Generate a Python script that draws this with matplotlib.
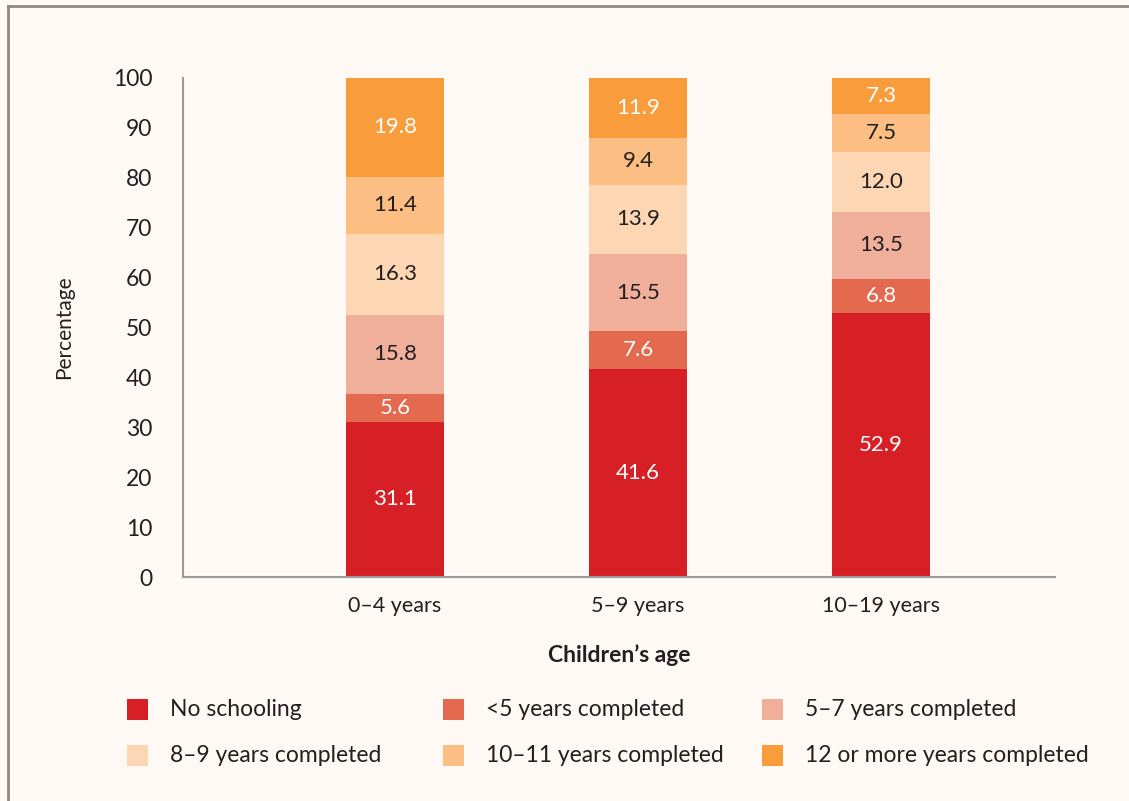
import matplotlib.pyplot as plt
from matplotlib.patches import Rectangle
from matplotlib.lines import Line2D
import numpy as np

ages = ["0\u20134 years", "5\u20139 years", "10\u201319 years"]
levels = ["No schooling", "<5 years completed", "5\u20137 years completed",
          "8\u20139 years completed", "10\u201311 years completed", "12 or more years completed"]
no_school = [31.1, 41.6, 52.9]
lt5 = [5.6, 7.6, 6.8]
y5_7 = [15.8, 15.5, 13.5]
y8_9 = [16.3, 13.9, 12.0]
y10_11 = [11.4, 9.4, 7.5]
y12plus = [19.8, 11.9, 7.3]
series = [no_school, lt5, y5_7, y8_9, y10_11, y12plus]

colors = ["#D71F26", "#E36A4F", "#F0AF9B", "#FDD7B3", "#FDBE84", "#F89C3C"]
label_colors = ["white", "white", "#231F20", "#231F20", "#231F20", "white"]
BG = "#FFF9F6"
DARK = "#231F20"
FONT = "Lato"

fig = plt.figure(figsize=(11.29, 8.01), dpi=100, facecolor=BG)
ax = fig.add_axes([183 / 1129, 1 - 577 / 801, (1055 - 183) / 1129, (577 - 78) / 801])
ax.set_facecolor(BG)

x = np.arange(len(ages))
bottom = np.zeros(len(ages))
for vals, col, lc in zip(series, colors, label_colors):
    vals = np.array(vals)
    ax.bar(x, vals, width=0.4, bottom=bottom, color=col, edgecolor="none", zorder=2)
    for xi, b, v in zip(x, bottom, vals):
        ax.text(xi, b + v / 2, f"{v:.1f}", ha="center", va="center", color=lc,
                fontsize=16, family=FONT, zorder=3)
    bottom += vals

ax.set_xlim(-0.872, 2.716)
ax.set_ylim(0, 100)
ax.set_yticks(range(0, 101, 10))
ax.set_xticks(x)
ax.set_xticklabels(ages)
for s in ["top", "right"]:
    ax.spines[s].set_visible(False)
for s in ["left", "bottom"]:
    ax.spines[s].set_color("#9A9A9A")
    ax.spines[s].set_linewidth(1.5)
ax.tick_params(axis="y", length=0, pad=22, labelsize=16.5, labelcolor=DARK)
ax.tick_params(axis="x", length=0, pad=14, labelsize=15.5, labelcolor=DARK)
for lab in ax.get_yticklabels() + ax.get_xticklabels():
    lab.set_family(FONT)

ax.set_ylabel("Percentage", fontsize=15, family=FONT, color=DARK, labelpad=28)
ax.set_xlabel("Children\u2019s age", fontsize=16.5, family=FONT, fontweight="bold", color=DARK, labelpad=20)

# legend laid out row by row, 3 columns
col_x = [127, 443, 762]
row_y = [710, 756]
for i, (name, col) in enumerate(zip(levels, colors)):
    cx = col_x[i % 3]
    cy = row_y[i // 3]
    fig.add_artist(Rectangle((cx / 1129, 1 - (cy + 10) / 801), 21 / 1129, 21 / 801,
                             transform=fig.transFigure, facecolor=col, edgecolor="none"))
    fig.text((cx + 43) / 1129, 1 - cy / 801, name, ha="left", va="center",
             fontsize=16.5, family=FONT, color=DARK)

# frame
fig.add_artist(Line2D([8 / 1129, 8 / 1129], [0, 1 - 6 / 801], transform=fig.transFigure,
                      color="#8A8A8A", linewidth=2))
fig.add_artist(Line2D([8 / 1129, 1], [1 - 6 / 801, 1 - 6 / 801], transform=fig.transFigure,
                      color="#8A8A8A", linewidth=2))

fig.savefig("out.png", dpi=100, facecolor=BG)
